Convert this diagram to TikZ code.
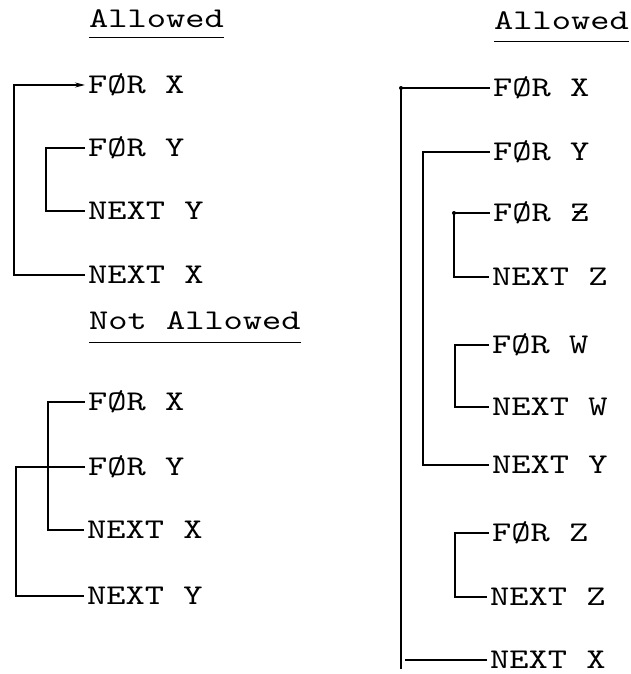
\documentclass[tikz,border=0pt]{standalone}
\usepackage{fontspec}
\newfontfamily\tw[FakeStretch=1.28]{lmmono10-regular.otf}
\usetikzlibrary{arrows.meta}
\newcommand\strikeZ{\ooalign{Z\cr\hidewidth\rule[0.29em]{0.42em}{0.07em}\hidewidth\cr}}
\tikzset{
  lbl/.style={font=\tw\fontsize{28.6}{30}\selectfont, anchor=west, inner xsep=3pt, inner ysep=0pt, text height=17.5pt, text depth=0pt},
  head/.style={font=\tw\fontsize{28.6}{30}\selectfont, anchor=base west, inner sep=0pt, text depth=10pt},
  wire/.style={line width=1.2pt},
  uline/.style={line width=1.3pt},
}
\begin{document}
\begin{tikzpicture}[x=1pt,y=-1pt]
\useasboundingbox (0,0) rectangle (631,674);
% ---- left top: Allowed
\node[head, text depth=9pt] (ha) at (89,28) {Allowed};
\draw[uline] (ha.south west) -- (ha.south east);
\node[lbl] (a1) at (85,85) {FØR X};
\node[lbl] (a2) at (85,148) {FØR Y};
\node[lbl] (a3) at (85,211) {NEXT Y};
\node[lbl] (a4) at (85,275) {NEXT X};
\draw[wire,-{Stealth[length=10pt,width=5pt]}] (a4.west) -- ++(-71,0) |- (a1.west);
\draw[wire] (a2.west) -- ++(-39,0) |- (a3.west);
% ---- left bottom: Not Allowed
\node[head, text depth=13pt] (hn) at (89,329) {Not Allowed};
\draw[uline] (hn.south west) -- (hn.south east);
\node[lbl] (n1) at (85,402) {FØR X};
\node[lbl] (n2) at (85,467) {FØR Y};
\node[lbl] (n3) at (84,530) {NEXT X};
\node[lbl] (n4) at (84,596) {NEXT Y};
\draw[wire] (n1.west) -- ++(-37,0) |- (n3.west);
\draw[wire] (n2.west) -- ++(-69,0) |- (n4.west);
% ---- right: Allowed
\node[head, text depth=11pt] (hr) at (494,30) {Allowed};
\draw[uline] (hr.south west) -- (hr.south east);
\node[lbl] (b1) at (490,88) {FØR X};
\node[lbl] (b2) at (490,152) {FØR Y};
\node[lbl] (b3) at (490,213) {FØR \strikeZ};
\node[lbl] (b4) at (489,277) {NEXT Z};
\node[lbl] (b5) at (489,345) {FØR W};
\node[lbl] (b6) at (489,407) {NEXT W};
\node[lbl] (b7) at (489,465) {NEXT Y};
\node[lbl] (b8) at (489,533) {FØR Z};
\node[lbl] (b9) at (487,597) {NEXT Z};
\node[lbl] (b10) at (487,660) {NEXT X};
\draw[wire] (b1.west) -- ++(-89,0) coordinate (c1) -- (c1 |- b10.south);
\fill (c1) circle (2pt);
\draw[wire] (b10.west) -- ++(-82,0);
\draw[wire] (b2.west) -- ++(-67,0) |- (b7.west);
\draw[wire] (b3.west) -- ++(-36,0) coordinate (c3) |- (b4.west);
\fill (c3) circle (2pt);
\draw[wire] (b5.west) -- ++(-34,0) |- (b6.west);
\draw[wire] (b8.west) -- ++(-34,0) |- (b9.west);
\end{tikzpicture}
\end{document}
